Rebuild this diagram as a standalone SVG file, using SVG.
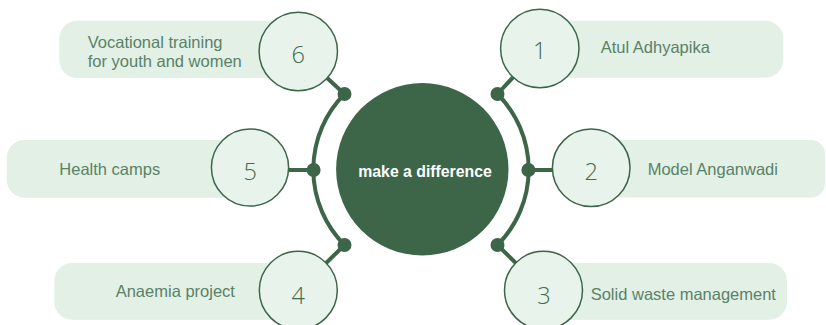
<svg xmlns="http://www.w3.org/2000/svg" width="826" height="325" viewBox="0 0 826 325">
  <style>
    .pill { fill: #e2f0e6; }
    .num-circle { fill: #e7f3eb; stroke: #3d6649; stroke-width: 1.5; }
    .label { font-family: "Liberation Sans", Arial, sans-serif; font-size: 16.5px; fill: #5a8266; }
    .num { font-family: "Open Sans", "Liberation Sans", Arial, sans-serif; font-size: 23.5px; font-weight: 300; fill: #44694e; text-anchor: middle; }
    .conn { stroke: #3d6649; stroke-width: 4; fill: none; }
    .dot { fill: #3d6649; }
    .center-text { font-family: "Liberation Sans", Arial, sans-serif; font-size: 15.8px; font-weight: bold; fill: #ffffff; text-anchor: middle; }
  </style>
  <rect width="826" height="325" fill="#ffffff"/>

  <g id="connectors">
    <path class="conn" d="M 344.5 94 A 107 107 0 0 0 344.5 245"/>
    <path class="conn" d="M 497.5 94 A 107 107 0 0 1 497.5 245"/>
    <line class="conn" x1="344.5" y1="94" x2="298.3" y2="51.5"/>
    <line class="conn" x1="497.5" y1="94" x2="539.8" y2="48.5"/>
    <line class="conn" x1="313.6" y1="170" x2="260" y2="170"/>
    <line class="conn" x1="528.4" y1="170" x2="580" y2="170"/>
    <line class="conn" x1="344.5" y1="245" x2="298.3" y2="290.3"/>
    <line class="conn" x1="497.5" y1="245" x2="543.5" y2="290.3"/>
    <circle class="dot" cx="344.5" cy="94" r="7"/>
    <circle class="dot" cx="497.5" cy="94" r="7"/>
    <circle class="dot" cx="313.6" cy="170" r="7"/>
    <circle class="dot" cx="528.4" cy="170" r="7"/>
    <circle class="dot" cx="344.5" cy="245" r="7"/>
    <circle class="dot" cx="497.5" cy="245" r="7"/>
  </g>

  <g id="node-6">
    <rect class="pill" x="59.3" y="20.7" width="239" height="57.3" rx="18"/>
    <circle class="num-circle" cx="298.3" cy="51.5" r="39.2"/>
    <text class="label" x="87.7" y="48">Vocational training</text>
    <text class="label" x="87.7" y="66.5">for youth and women</text>
    <text class="num" x="298.3" y="63.3">6</text>
  </g>

  <g id="node-1">
    <rect class="pill" x="539.8" y="20.7" width="243.5" height="57" rx="18"/>
    <circle class="num-circle" cx="539.8" cy="48.5" r="39.2"/>
    <text class="label" x="600.7" y="52.5">Atul Adhyapika</text>
    <text class="num" x="539.8" y="59.3">1</text>
  </g>

  <g id="node-5">
    <rect class="pill" x="6.7" y="140" width="243.3" height="57.7" rx="18"/>
    <circle class="num-circle" cx="250" cy="167.5" r="38.6"/>
    <text class="label" x="59.3" y="175">Health camps</text>
    <text class="num" x="250.3" y="180">5</text>
  </g>

  <g id="node-2">
    <rect class="pill" x="591.2" y="140" width="233.8" height="57.5" rx="14"/>
    <circle class="num-circle" cx="591.2" cy="167.8" r="38.8"/>
    <text class="label" x="647.7" y="174.5">Model Anganwadi</text>
    <text class="num" x="591.2" y="180">2</text>
  </g>

  <g id="node-4">
    <rect class="pill" x="54.3" y="263" width="244" height="56.7" rx="18"/>
    <circle class="num-circle" cx="298.3" cy="290.3" r="39"/>
    <text class="label" x="115.7" y="297">Anaemia project</text>
    <text class="num" x="298.3" y="304.3">4</text>
  </g>

  <g id="node-3">
    <rect class="pill" x="543.5" y="263" width="243.5" height="56.7" rx="18"/>
    <circle class="num-circle" cx="543.5" cy="290.3" r="39"/>
    <text class="label" x="590.7" y="300">Solid waste management</text>
    <text class="num" x="544" y="304.3">3</text>
  </g>

  <g id="center">
    <circle cx="422.3" cy="169.3" r="86.2" fill="#3d6649"/>
    <text class="center-text" x="425" y="177">make a difference</text>
  </g>
</svg>
